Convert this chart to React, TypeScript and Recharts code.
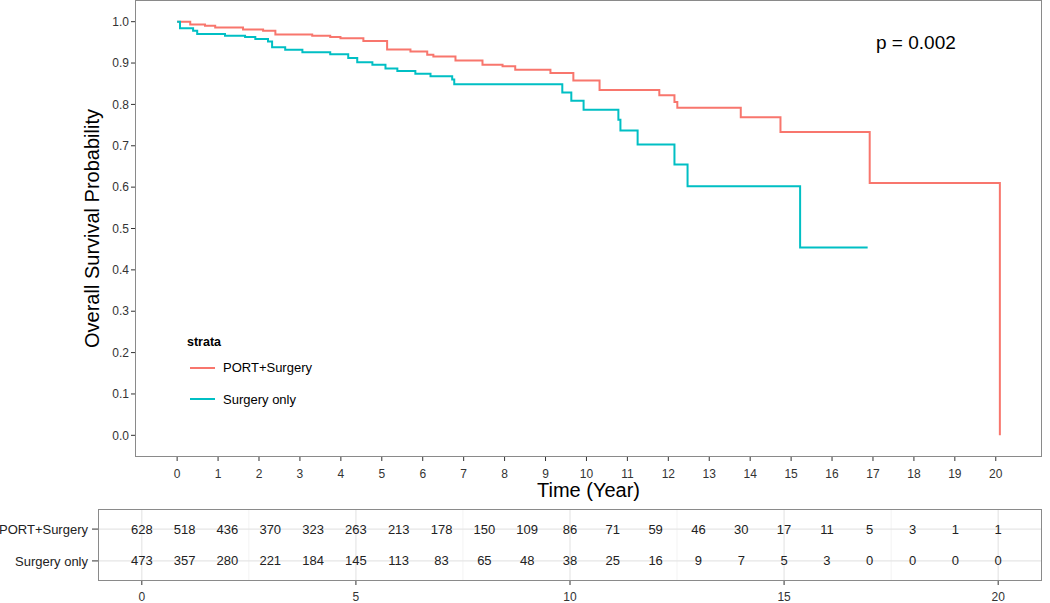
import React from "react";
import {
  LineChart,
  Line,
  XAxis,
  YAxis,
  ReferenceLine,
  ScatterChart,
  Scatter,
} from "recharts";

const FONT = '"Liberation Sans", Arial, Helvetica, sans-serif';
const RED = "#F8766D";
const TEAL = "#00BFC4";
const BORDER = "#8a8a8a";

const strata = ["PORT+Surgery", "Surgery only"];
const strataColors = [RED, TEAL];

// Kaplan-Meier steps (time in years, survival)
const portTime = [0, 0.32, 0.68, 0.93, 1.61, 2.1, 2.4, 3.3, 3.74, 3.99, 4.55, 5.13, 5.7, 6.11, 6.26, 6.8, 7.46, 7.95, 8.26, 9.12, 9.68, 10.32, 11.78, 12.15, 12.22, 13.77, 14.74, 16.92, 20.1];
const portSurv = [1, 0.993, 0.99, 0.986, 0.981, 0.978, 0.969, 0.966, 0.963, 0.96, 0.953, 0.933, 0.928, 0.92, 0.916, 0.906, 0.896, 0.892, 0.884, 0.876, 0.858, 0.835, 0.822, 0.806, 0.792, 0.769, 0.733, 0.61, 0];

const surgTime = [0, 0.07, 0.39, 0.49, 1.17, 1.66, 1.91, 2.22, 2.32, 2.64, 3.06, 3.74, 4.18, 4.4, 4.77, 5.09, 5.38, 5.82, 6.19, 6.72, 6.77, 9.41, 9.63, 9.93, 10.78, 10.83, 11.25, 12.15, 12.47, 15.22, 16.87];
const surgSurv = [1, 0.984, 0.978, 0.97, 0.966, 0.963, 0.958, 0.952, 0.938, 0.932, 0.926, 0.921, 0.912, 0.902, 0.896, 0.887, 0.881, 0.874, 0.868, 0.86, 0.849, 0.829, 0.809, 0.787, 0.763, 0.737, 0.703, 0.655, 0.602, 0.454, 0.454];

const timeTicks = [0, 1, 2, 3, 4, 5, 6, 7, 8, 9, 10, 11, 12, 13, 14, 15, 16, 17, 18, 19, 20];
const survTicks = [0, 0.1, 0.2, 0.3, 0.4, 0.5, 0.6, 0.7, 0.8, 0.9, 1];

// number at risk
const riskTimes = [0, 1, 2, 3, 4, 5, 6, 7, 8, 9, 10, 11, 12, 13, 14, 15, 16, 17, 18, 19, 20];
const portRisk = [628, 518, 436, 370, 323, 263, 213, 178, 150, 109, 86, 71, 59, 46, 30, 17, 11, 5, 3, 1, 1];
const surgRisk = [473, 357, 280, 221, 184, 145, 113, 83, 65, 48, 38, 25, 16, 9, 7, 5, 3, 0, 0, 0, 0];
const riskTicks = [0, 5, 10, 15, 20];
const gridMinor = [2.5, 7.5, 12.5, 17.5];

const portData = portTime.map((t, i) => ({ t, s: portSurv[i] }));
const surgData = surgTime.map((t, i) => ({ t, s: surgSurv[i] }));
const portRows = riskTimes.map((t, i) => ({ t, row: 1, n: portRisk[i] }));
const surgRows = riskTimes.map((t, i) => ({ t, row: 2, n: surgRisk[i] }));

const X_DOMAIN = [-1.005, 21.105];
const Y_DOMAIN = [-0.05, 1.05];
const RX_DOMAIN = [-1, 21];
const RY_DOMAIN = [0.4, 2.6];

// layout of the two stacked charts
const W = 1050;
const MAIN_H = 505;
const MAIN_M = { top: 1, right: 9, left: 0, bottom: 0 };
const MAIN_YW = 136;
const MAIN_XH = 49;
const RISK_H = 98;
const RISK_M = { top: 5, right: 9, left: 0, bottom: 0 };
const RISK_YW = 99;
const RISK_XH = 23;

const tickStyle = { fill: "#333", fontSize: 12, fontFamily: FONT };

// grey box around a plot area (ggplot panel border)
function Frame({ top, left, width, height }: { top: number; left: number; width: number; height: number }) {
  const bw = 1.2;
  return (
    <div
      style={{
        position: "absolute",
        left: left - bw / 2,
        top: top - bw / 2,
        width: width + bw,
        height: height + bw,
        border: `${bw}px solid ${BORDER}`,
        boxSizing: "border-box",
        pointerEvents: "none",
      }}
    />
  );
}

function YTitle(p: any) {
  const vb = p.viewBox || { x: 0, y: 1, width: 136, height: 455 };
  const cx = vb.x + vb.width - 44;
  const cy = vb.y + vb.height / 2;
  return (
    <text
      x={cx}
      y={cy}
      transform={`rotate(-90 ${cx} ${cy})`}
      textAnchor="middle"
      dominantBaseline="central"
      fontSize={20}
      fontFamily={FONT}
      fill="#000"
    >
      Overall Survival Probability
    </text>
  );
}

function RiskText(props: any) {
  const { cx, cy, payload } = props;
  return (
    <text x={cx} y={cy} textAnchor="middle" dominantBaseline="central" fontSize={13} fontFamily={FONT} fill="#222">
      {payload.n}
    </text>
  );
}

export default function App() {
  return (
    <div style={{ position: "absolute", left: 0, top: 0, width: W, height: 603, background: "#fff", fontFamily: FONT }}>
      <LineChart width={W} height={MAIN_H} margin={MAIN_M}>
        <XAxis
          type="number"
          dataKey="t"
          domain={X_DOMAIN}
          ticks={timeTicks}
          interval={0}
          allowDataOverflow
          height={MAIN_XH}
          tickSize={5}
          tickMargin={8}
          axisLine={false}
          tick={tickStyle}
          tickLine={{ stroke: "#333" }}
          label={{ value: "Time (Year)", position: "insideBottom", offset: 8, fontSize: 20, fill: "#000", fontFamily: FONT }}
        />
        <YAxis
          type="number"
          domain={Y_DOMAIN}
          ticks={survTicks}
          interval={0}
          allowDataOverflow
          width={MAIN_YW}
          tickSize={5}
          tickMargin={2}
          axisLine={false}
          tick={tickStyle}
          tickLine={{ stroke: "#333" }}
          tickFormatter={(v: number) => v.toFixed(1)}
          label={<YTitle />}
        />
        <Line data={portData} dataKey="s" name={strata[0]} type="stepAfter" stroke={RED} strokeWidth={2} dot={false} isAnimationActive={false} />
        <Line data={surgData} dataKey="s" name={strata[1]} type="stepAfter" stroke={TEAL} strokeWidth={2} dot={false} isAnimationActive={false} />
      </LineChart>
      <Frame
        left={MAIN_M.left + MAIN_YW}
        top={MAIN_M.top}
        width={W - MAIN_M.left - MAIN_YW - MAIN_M.right}
        height={MAIN_H - MAIN_M.top - MAIN_XH}
      />

      {/* legend */}
      <div style={{ position: "absolute", left: 187, top: 332, color: "#000" }}>
        <div style={{ fontWeight: "bold", fontSize: 12.5, height: 20, lineHeight: "20px" }}>strata</div>
        {strata.map((name, i) => (
          <div key={name} style={{ height: 31.6, display: "flex", alignItems: "center" }}>
            <div style={{ width: 25, height: 2, background: strataColors[i], marginLeft: 3, marginRight: 8 }} />
            <span style={{ fontSize: 13 }}>{name}</span>
          </div>
        ))}
      </div>

      <div style={{ position: "absolute", left: 876, top: 33, fontSize: 19, lineHeight: "20px", color: "#000", whiteSpace: "nowrap" }}>
        p = 0.002
      </div>

      <ScatterChart width={W} height={RISK_H} margin={RISK_M}>
        {gridMinor.map((v) => (
          <ReferenceLine key={"m" + v} x={v} stroke="#f3f3f3" strokeWidth={1} />
        ))}
        {riskTicks.map((v) => (
          <ReferenceLine key={"M" + v} x={v} stroke="#e6e6e6" strokeWidth={1.2} />
        ))}
        {[1, 2].map((v) => (
          <ReferenceLine key={"h" + v} y={v} stroke="#e6e6e6" strokeWidth={1.2} />
        ))}
        <XAxis
          type="number"
          dataKey="t"
          domain={RX_DOMAIN}
          ticks={riskTicks}
          interval={0}
          allowDataOverflow
          height={RISK_XH}
          tickSize={5}
          tickMargin={7}
          axisLine={false}
          tick={tickStyle}
          tickLine={{ stroke: "#333" }}
        />
        <YAxis
          type="number"
          dataKey="row"
          domain={RY_DOMAIN}
          reversed
          ticks={[1, 2]}
          interval={0}
          allowDataOverflow
          width={RISK_YW}
          tickSize={7}
          tickMargin={4}
          axisLine={false}
          tick={{ fill: "#222", fontSize: 13, fontFamily: FONT }}
          tickLine={{ stroke: "#333" }}
          tickFormatter={(v: number) => strata[v - 1]}
        />
        <Scatter data={portRows} shape={<RiskText />} isAnimationActive={false} />
        <Scatter data={surgRows} shape={<RiskText />} isAnimationActive={false} />
      </ScatterChart>
      <Frame
        left={RISK_M.left + RISK_YW}
        top={MAIN_H + RISK_M.top}
        width={W - RISK_M.left - RISK_YW - RISK_M.right}
        height={RISK_H - RISK_M.top - RISK_XH}
      />
    </div>
  );
}
